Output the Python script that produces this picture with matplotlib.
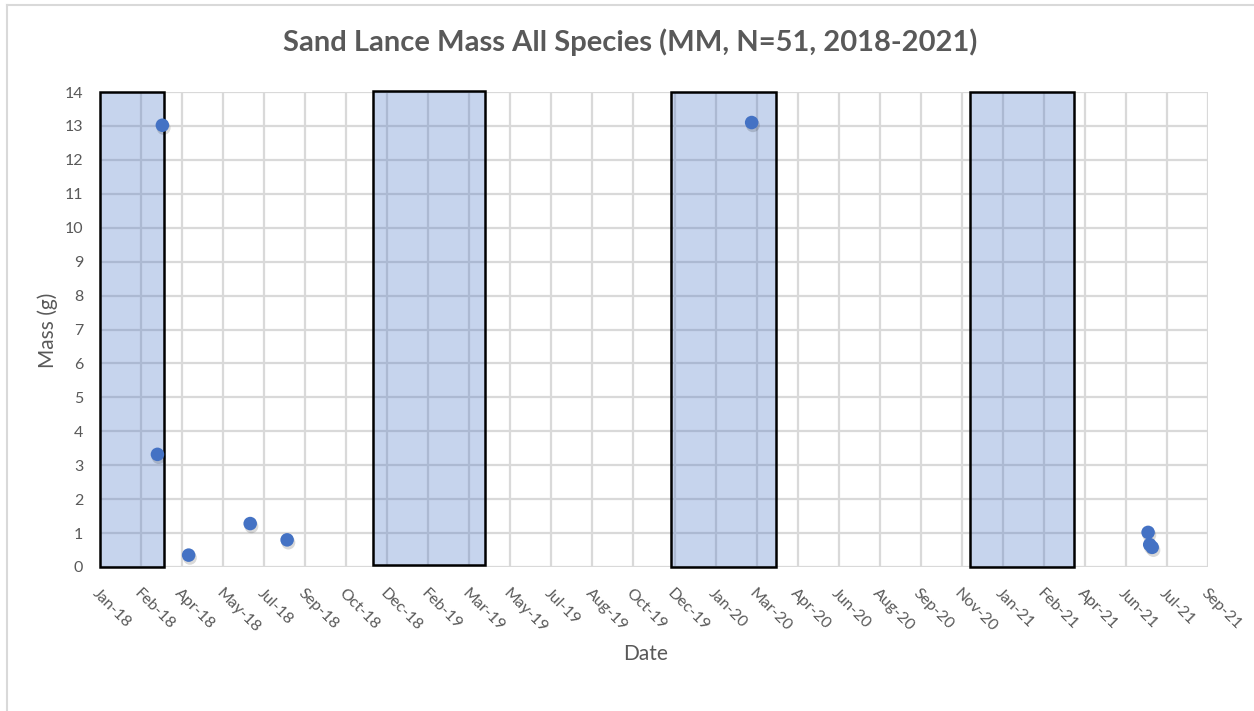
import matplotlib
matplotlib.use("Agg")
import matplotlib.pyplot as plt
import matplotlib.dates as mdates
from matplotlib.lines import Line2D
import numpy as np
import datetime as dt

# sample dates and masses (g)
dates = ["2018-03-12", "2018-03-18", "2018-04-19", "2018-07-03", "2018-08-17",
         "2020-03-05", "2021-07-01", "2021-07-03", "2021-07-06"]
mass = [3.32, 13.02, 0.35, 1.28, 0.80, 13.10, 1.02, 0.66, 0.58]

# winter periods drawn as shaded boxes: (start, end, bottom, top)
box_start = ["2018-01-01", "2018-11-30", "2019-11-28", "2020-11-26"]
box_end = ["2018-03-20", "2019-04-15", "2020-04-04", "2021-04-02"]
box_bottom = [0.0, 0.06, 0.0, 0.0]
box_top = [14.0, 14.04, 14.0, 14.0]

x_start = dt.date(2018, 1, 1)
tick_step = 50  # days between axis labels
n_ticks = 28

gray = "#595959"
grid = "#d9d9d9"
blue = "#4472C4"

plt.rcParams["font.family"] = ["Lato", "DejaVu Sans"]

fig = plt.figure(figsize=(12.54, 7.11), dpi=100)
ax = fig.add_axes([100 / 1254, 1 - 567 / 711, 1108 / 1254, 475 / 711])

xd = mdates.date2num([np.datetime64(d) for d in dates])
ticks = [mdates.date2num(x_start + dt.timedelta(days=tick_step * i)) for i in range(n_ticks)]

ax.set_xlim(ticks[0], ticks[-1])
ax.set_ylim(0, 14)
ax.set_xticks(ticks)
ax.set_yticks(range(0, 15))
ax.xaxis.set_major_formatter(mdates.DateFormatter("%b-%y"))
ax.grid(True, color=grid, linewidth=1.6, zorder=0)
ax.set_axisbelow(True)
for s in ax.spines.values():
    s.set_visible(False)
ax.tick_params(length=0, colors=gray, labelsize=11.5)
for lab in ax.get_xticklabels():
    lab.set_rotation(-45)
    lab.set_ha("left")
    lab.set_va("top")
    lab.set_rotation_mode("anchor")
ax.tick_params(axis="x", pad=14)
ax.tick_params(axis="y", pad=12)

for a, b, lo, hi in zip(box_start, box_end, box_bottom, box_top):
    x0 = mdates.date2num(np.datetime64(a))
    x1 = mdates.date2num(np.datetime64(b))
    ax.add_patch(plt.Rectangle((x0, lo), x1 - x0, hi - lo, facecolor=blue,
                               alpha=0.3, edgecolor="none", zorder=2, clip_on=False))
    ax.add_patch(plt.Rectangle((x0, lo), x1 - x0, hi - lo, facecolor="none",
                               edgecolor="black", linewidth=1.8, zorder=3, clip_on=False))

# soft shadow then markers
ax.scatter(xd + 1.5, np.array(mass) - 0.08, s=100, color="black", alpha=0.15,
           edgecolors="none", zorder=4, clip_on=False)
ax.scatter(xd, mass, s=95, color=blue, edgecolors="none", zorder=5, clip_on=False)

fig.text(630 / 1254, 1 - 42 / 711, "Sand Lance Mass All Species (MM, N=51, 2018-2021)",
         ha="center", va="center", fontsize=21, fontweight="bold", color=gray)
fig.text(48 / 1254, 1 - 330 / 711, "Mass (g)", rotation=90, ha="center",
         va="center", fontsize=15, color=gray)
fig.text(646 / 1254, 1 - 654 / 711, "Date", ha="center", va="center",
         fontsize=15, color=gray)

# chart frame
fig.add_artist(Line2D([7 / 1254, 7 / 1254], [0, 1 - 5 / 711], color=grid, linewidth=1.5))
fig.add_artist(Line2D([7 / 1254, 1], [1 - 5 / 711, 1 - 5 / 711], color=grid, linewidth=1.5))

fig.savefig("out.png", dpi=100)
